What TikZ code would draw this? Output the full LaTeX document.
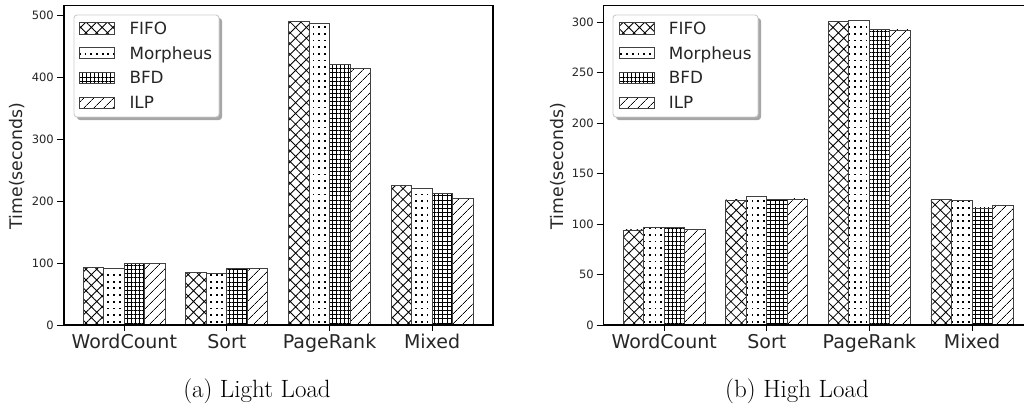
\documentclass[tikz,border=0pt]{standalone}
\usepackage{fontspec}
\newfontfamily\plotfont{DejaVu Sans}
\usetikzlibrary{patterns.meta}

% sparse dots as in the plot
\pgfdeclarepattern{
  name=plotdots,
  type=uncolored,
  bottom left={\pgfpoint{-1.5pt}{-1.5pt}},
  top right={\pgfpoint{4.2pt}{5.2pt}},
  tile size={\pgfpoint{5.7pt}{6.7pt}},
  code={
    \pgfpathrectangle{\pgfpoint{-0.9pt}{-0.9pt}}{\pgfpoint{1.8pt}{1.8pt}}
    \pgfusepath{fill}
  }
}

\begin{document}
\begin{tikzpicture}[
  x=1pt, y=-1pt,
  every node/.style={inner sep=0pt},
  ticklabel/.style={font=\plotfont\fontsize{11.5}{13}\selectfont, text=black!85, anchor=east},
  grouplabel/.style={font=\plotfont\fontsize{19}{23}\selectfont, text=black!85, anchor=base},
  axislabel/.style={font=\plotfont\fontsize{17.3}{20}\selectfont, text=black!85, rotate=90},
  legendtext/.style={font=\plotfont\fontsize{16.8}{20}\selectfont, text=black!85, anchor=base west},
  captiontext/.style={font=\fontsize{25}{30}\selectfont, anchor=base},
  axisframe/.style={draw=black, line width=1.1pt},
  tickmark/.style={draw=black, line width=0.9pt},
  barbox/.style={draw=black!75, line width=0.9pt, pattern color=black},
  fifo/.style={barbox, pattern={Hatch[angle=45, distance=7.6pt, line width=0.85pt]}},
  morpheus/.style={barbox, pattern=plotdots},
  bfd/.style={barbox, pattern={Hatch[angle=0, distance=4.1pt, line width=0.75pt]}},
  ilp/.style={barbox, pattern={Lines[angle=45, distance=7.4pt, line width=0.85pt]}},
  legendbox/.style={draw=black!20, fill=white, rounded corners=3pt, line width=0.9pt},
  legendshadow/.style={fill=black!35, rounded corners=3pt}
]
\useasboundingbox (0,0) rectangle (1024,409);

% (a) light load: bars
\foreach \v [count=\g from 0] in {92.6,85,491,225.8}
  \draw[fifo] ({83.26+\g*102.6},325) rectangle ++(20.52,{-\v*0.6187});
\foreach \v [count=\g from 0] in {91,83.5,488,220}
  \draw[morpheus] ({103.78+\g*102.6},325) rectangle ++(20.52,{-\v*0.6187});
\foreach \v [count=\g from 0] in {99.7,91,421,212.8}
  \draw[bfd] ({124.3+\g*102.6},325) rectangle ++(20.52,{-\v*0.6187});
\foreach \v [count=\g from 0] in {100,91.5,415,204.8}
  \draw[ilp] ({144.82+\g*102.6},325) rectangle ++(20.52,{-\v*0.6187});

% (a) axes
\draw[axisframe] (64,5.3) rectangle (493,325);
\foreach \t in {0,100,...,500} {
  \draw[tickmark] (57,{325-\t*0.6187}) -- (64,{325-\t*0.6187});
  \node[ticklabel] at (54,{325-\t*0.6187}) {\t};
}
\foreach \c in {124.3,226.9,329.5,432.1}
  \draw[tickmark] (\c,325) -- (\c,331);
\node[grouplabel] (wordcount-a) at (124.3,348.5) {WordCount};
\node[grouplabel] (sort-a) at (226.9,348.5) {Sort};
\node[grouplabel] (pagerank-a) at (329.5,348.5) {PageRank};
\node[grouplabel] (mixed-a) at (432.1,348.5) {Mixed};
\node[axislabel] (ylabel-a) at (17.5,166) {Time(seconds)};

% (a) legend
\fill[legendshadow] (77,18) rectangle (222,120);
\draw[legendbox] (74,15) rectangle (219,117);
\draw[fifo] (79.3,22.7) rectangle (114.3,34);
\draw[morpheus] (79.3,47.5) rectangle (114.3,58.8);
\draw[bfd] (79.3,72.3) rectangle (114.3,83.6);
\draw[ilp] (79.3,97.1) rectangle (114.3,108.4);
\node[legendtext] (fifo-a) at (129.3,34.4) {FIFO};
\node[legendtext] (morpheus-a) at (129.3,59.2) {Morpheus};
\node[legendtext] (bfd-a) at (129.3,84) {BFD};
\node[legendtext] (ilp-a) at (129.3,108.8) {ILP};

\node[captiontext] (caption-a) at (257,397) {(a) Light Load};

% (b) high load: bars
\foreach \v [count=\g from 0] in {94.2,123.9,300.6,124.6}
  \draw[fifo] ({623.16+\g*102.6},325) rectangle ++(20.52,{-\v*1.009});
\foreach \v [count=\g from 0] in {96.4,127.2,301.6,123.2}
  \draw[morpheus] ({643.68+\g*102.6},325) rectangle ++(20.52,{-\v*1.009});
\foreach \v [count=\g from 0] in {97.1,124,293,116}
  \draw[bfd] ({664.2+\g*102.6},325) rectangle ++(20.52,{-\v*1.009});
\foreach \v [count=\g from 0] in {94.8,124.9,292.4,118}
  \draw[ilp] ({684.72+\g*102.6},325) rectangle ++(20.52,{-\v*1.009});

% (b) axes, cut at the right edge
\draw[axisframe] (1024,5.3) -- (603.7,5.3) -- (603.7,325) -- (1024,325);
\foreach \t in {0,50,...,300} {
  \draw[tickmark] (596.7,{325-\t*1.009}) -- (603.7,{325-\t*1.009});
  \node[ticklabel] at (594,{325-\t*1.009}) {\t};
}
\foreach \c in {664.2,766.8,869.4,972}
  \draw[tickmark] (\c,325) -- (\c,331);
\node[grouplabel] (wordcount-b) at (664.2,348.5) {WordCount};
\node[grouplabel] (sort-b) at (766.8,348.5) {Sort};
\node[grouplabel] (pagerank-b) at (869.4,348.5) {PageRank};
\node[grouplabel] (mixed-b) at (972,348.5) {Mixed};
\node[axislabel] (ylabel-b) at (557.8,166) {Time(seconds)};

% (b) legend
\fill[legendshadow] (616,18) rectangle (761,120);
\draw[legendbox] (613,15) rectangle (758,117);
\draw[fifo] (619.3,22.7) rectangle (654.3,34);
\draw[morpheus] (619.3,47.5) rectangle (654.3,58.8);
\draw[bfd] (619.3,72.3) rectangle (654.3,83.6);
\draw[ilp] (619.3,97.1) rectangle (654.3,108.4);
\node[legendtext] (fifo-b) at (668.7,34.4) {FIFO};
\node[legendtext] (morpheus-b) at (668.7,59.2) {Morpheus};
\node[legendtext] (bfd-b) at (668.7,84) {BFD};
\node[legendtext] (ilp-b) at (668.7,108.8) {ILP};

\node[captiontext] (caption-b) at (797,397) {(b) High Load};

\end{tikzpicture}
\end{document}
